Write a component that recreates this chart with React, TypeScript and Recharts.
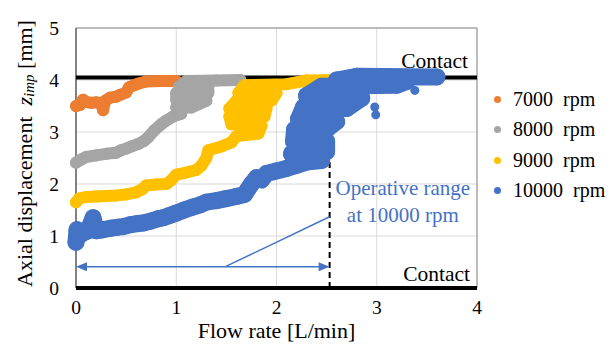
import React from "react";
import {
  ScatterChart,
  Scatter,
  XAxis,
  YAxis,
  CartesianGrid,
  ReferenceLine,
  ReferenceArea,
  ReferenceDot,
  Legend,
} from "recharts";

type Pt = [number, number];

const xTicks = [0, 1, 2, 3, 4];
const yTicks = [0, 1, 2, 3, 4, 5];

// flow rate [L/min], axial displacement [mm], traced along each band
const rpm7000: Pt[] = [
  [0, 3.5], [0.04, 3.52], [0.07, 3.62], [0.1, 3.58], [0.15, 3.56], [0.2, 3.57],
  [0.25, 3.55], [0.27, 3.42], [0.29, 3.6], [0.34, 3.66], [0.4, 3.68], [0.45, 3.72],
  [0.5, 3.76], [0.53, 3.86], [0.58, 3.9], [0.62, 3.93], [0.7, 3.97], [0.85, 3.98],
  [1.0, 3.98],
];

const rpm8000: Pt[] = [
  [0, 2.41], [0.05, 2.47], [0.1, 2.52], [0.2, 2.55], [0.3, 2.58], [0.4, 2.6],
  [0.45, 2.65], [0.5, 2.68], [0.55, 2.72], [0.62, 2.77], [0.68, 2.83], [0.72, 2.9],
  [0.78, 3.03], [0.85, 3.15], [0.9, 3.22], [0.97, 3.3], [1.05, 3.35], [1.0, 3.47],
  [1.15, 3.47], [1.3, 3.6], [1.0, 3.62], [1.0, 3.75], [1.32, 3.75], [1.32, 3.88],
  [1.03, 3.88], [1.1, 3.98], [1.4, 3.99], [1.64, 4.0],
];

const rpm9000: Pt[] = [
  [0, 1.65], [0.03, 1.72], [0.1, 1.75], [0.2, 1.76], [0.3, 1.77], [0.4, 1.78],
  [0.5, 1.8], [0.6, 1.84], [0.66, 1.9], [0.7, 1.97], [0.8, 1.99], [0.9, 2.0],
  [0.95, 2.07], [1.0, 2.18], [1.1, 2.22], [1.2, 2.27], [1.25, 2.35], [1.3, 2.5],
  [1.32, 2.65], [1.45, 2.72], [1.55, 2.8], [1.6, 2.92], [1.82, 2.97], [1.85, 3.12],
  [1.55, 3.15], [1.53, 3.3], [1.88, 3.3], [1.9, 3.45], [1.53, 3.45], [1.6, 3.6],
  [1.95, 3.6], [2.0, 3.75], [1.62, 3.75], [1.68, 3.9], [2.1, 3.92], [2.3, 3.99],
  [2.6, 4.0],
];

const rpm10000: Pt[] = [
  [0, 0.88], [0.01, 1.12], [0.04, 1.02], [0.07, 1.06], [0.12, 1.1], [0.17, 1.35],
  [0.2, 1.1], [0.27, 1.12], [0.35, 1.15], [0.42, 1.17], [0.47, 1.18], [0.55, 1.22],
  [0.62, 1.24], [0.67, 1.25], [0.75, 1.29], [0.82, 1.33], [0.87, 1.35], [0.94, 1.4],
  [1.0, 1.44], [1.08, 1.5], [1.17, 1.56], [1.24, 1.6], [1.3, 1.65], [1.4, 1.68],
  [1.5, 1.72], [1.6, 1.76], [1.68, 1.8], [1.75, 2.0], [1.8, 2.12], [1.85, 2.08],
  [1.9, 2.2], [2.0, 2.25], [2.1, 2.3], [2.2, 2.36], [2.3, 2.42], [2.45, 2.45],
  [2.15, 2.58], [2.5, 2.62], [2.5, 2.82], [2.17, 2.82], [2.18, 3.05], [2.5, 3.05],
  [2.6, 3.2], [2.22, 3.25], [2.27, 3.48], [2.7, 3.45], [2.85, 3.65], [2.3, 3.7],
  [2.45, 3.88], [3.2, 3.9], [3.3, 3.97], [2.6, 4.0], [2.8, 4.07], [3.6, 4.06],
];

const rpm10000Loose: Pt[] = [[3.38, 3.8], [2.98, 3.48], [2.99, 3.33]];

const seriesNames = ["7000 rpm", "8000 rpm", "9000 rpm", "10000 rpm"];
const seriesColors = ["#ED7D31", "#A5A5A5", "#FFC000", "#4472C4"];
const seriesData = [rpm7000, rpm8000, rpm9000, rpm10000];
const bandWidths = [12, 12, 12, 17];

const contactTop = 4.05;
const operativeMax = 2.53;
const arrowY = 0.41;
const pointerStart: Pt = [1.49, 0.41];
const pointerEnd: Pt = [2.53, 1.37];
const noteAt: Pt = [3.26, 1.79];
const noteLines = ["Operative range", "at 10000 rpm"];

const SERIF = "Liberation Serif, DejaVu Serif, serif";
const BLUE = "#4472C4";

const toXY = (pts: Pt[]) => pts.map(([x, y]) => ({ x, y }));

const dotShape = (color: string, r: number) => (p: any) =>
  <circle cx={p.cx} cy={p.cy} r={r} fill={color} />;

const arrowHead = (x: number, y: number, dir: number) => (
  <polygon
    points={`${x},${y} ${x - dir * 11},${y - 4.5} ${x - dir * 11},${y + 4.5}`}
    fill={BLUE}
  />
);

const DoubleArrow = (p: any) => {
  const { x1, y1, x2, y2 } = p;
  return (
    <g>
      <line x1={x1 + 8} y1={y1} x2={x2 - 8} y2={y2} stroke={BLUE} strokeWidth={1.5} />
      {arrowHead(x1, y1, -1)}
      {arrowHead(x2, y2, 1)}
    </g>
  );
};

const Note = (p: any) => (
  <text x={p.cx} y={p.cy} textAnchor="middle" fill={BLUE} fontFamily={SERIF} fontSize={21}>
    <tspan x={p.cx}>{noteLines[0]}</tspan>
    <tspan x={p.cx} dy={27}>{noteLines[1]}</tspan>
  </text>
);

const YTitle = (p: any) => {
  const vb = p.viewBox || { x: 16, y: 28, width: 60, height: 260 };
  const cx = vb.x + 8;
  const cy = vb.y + vb.height / 2 - 4.5;
  return (
    <text
      x={cx}
      y={cy}
      transform={`rotate(-90 ${cx} ${cy})`}
      textAnchor="middle"
      dominantBaseline="central"
      fontFamily={SERIF}
      fontSize={22}
      fill="#000"
    >
      Axial displacement{"\u00a0\u00a0"}
      <tspan fontStyle="italic">z</tspan>
      <tspan fontStyle="italic" fontSize={15} dy={5}>imp</tspan>
      <tspan dy={-5}> [mm]</tspan>
    </text>
  );
};

const LegendBox = () => (
  <div style={{ fontFamily: SERIF, fontSize: 20, color: "#000" }}>
    {seriesNames.map((n, i) => (
      <div key={n} style={{ display: "flex", alignItems: "center", height: 30.5 }}>
        <span
          style={{
            width: 7,
            height: 7,
            borderRadius: "50%",
            background: seriesColors[i],
            marginRight: 12,
            flex: "none",
          }}
        />
        <span style={{ whiteSpace: "pre" }}>{n.replace(" ", "  ")}</span>
      </div>
    ))}
  </div>
);

export default function App() {
  return (
    <div style={{ position: "absolute", left: 0, top: 0, width: 611, height: 345, background: "#fff" }}>
      <ScatterChart width={611} height={345} margin={{ top: 28, right: 134, bottom: 17, left: 16 }}>
        <CartesianGrid stroke="#d9d9d9" />
        <XAxis
          type="number"
          dataKey="x"
          domain={[0, 4]}
          ticks={xTicks}
          axisLine={false}
          tickLine={false}
          tickSize={0}
          tickMargin={12}
          height={40}
          tick={{ fill: "#000", fontSize: 19.5, fontFamily: SERIF }}
          label={{
            value: "Flow rate [L/min]",
            position: "insideBottom",
            offset: -10,
            fill: "#000",
            fontSize: 22,
            fontFamily: SERIF,
          }}
        />
        <YAxis
          type="number"
          dataKey="y"
          domain={[0, 5]}
          ticks={yTicks}
          axisLine={false}
          tickLine={false}
          tickSize={0}
          tickMargin={17}
          width={60}
          tick={{ fill: "#000", fontSize: 19.5, fontFamily: SERIF }}
          label={YTitle}
        />
        <ReferenceArea x1={0} x2={4} y1={0} y2={5} fill="none" stroke="#8c8c8c" strokeWidth={1} />
        <ReferenceLine
          segment={[{ x: 0, y: 0 }, { x: 0, y: 5 }]}
          stroke="#6f6f6f"
          strokeWidth={1.5}
        />
        {seriesData.map((d, i) => (
          <Scatter
            key={seriesNames[i]}
            name={seriesNames[i]}
            data={toXY(d)}
            fill={seriesColors[i]}
            line={{
              stroke: seriesColors[i],
              strokeWidth: bandWidths[i],
              strokeLinejoin: "round",
              strokeLinecap: "round",
            }}
            lineType="joint"
            shape={dotShape(seriesColors[i], bandWidths[i] / 2)}
            isAnimationActive={false}
          />
        ))}
        <Scatter
          name="10000 rpm loose"
          data={toXY(rpm10000Loose)}
          fill={BLUE}
          legendType="none"
          shape={dotShape(BLUE, 4.5)}
          isAnimationActive={false}
        />
        <ReferenceLine
          segment={[{ x: operativeMax, y: 0 }, { x: operativeMax, y: contactTop }]}
          stroke="#000"
          strokeWidth={2}
          strokeDasharray="6 4"
        />
        <ReferenceLine
          y={contactTop}
          stroke="#000"
          strokeWidth={4}
          label={{
            value: "Contact",
            position: "insideBottomRight",
            offset: 9,
            fill: "#000",
            fontSize: 21.5,
            fontFamily: SERIF,
          }}
        />
        <ReferenceLine
          y={0}
          stroke="#000"
          strokeWidth={4}
          label={{
            value: "Contact",
            position: "insideBottomRight",
            offset: 7,
            fill: "#000",
            fontSize: 21.5,
            fontFamily: SERIF,
          }}
        />
        <ReferenceLine
          segment={[{ x: 0, y: arrowY }, { x: operativeMax, y: arrowY }]}
          shape={DoubleArrow}
        />
        <ReferenceLine
          segment={[
            { x: pointerStart[0], y: pointerStart[1] },
            { x: pointerEnd[0], y: pointerEnd[1] },
          ]}
          stroke={BLUE}
          strokeWidth={1.5}
        />
        <ReferenceDot x={noteAt[0]} y={noteAt[1]} r={0} shape={Note} />
        <Legend
          layout="vertical"
          align="center"
          verticalAlign="middle"
          content={LegendBox}
          wrapperStyle={{ left: 494, top: 84, width: 117, height: 125 }}
        />
      </ScatterChart>
    </div>
  );
}
